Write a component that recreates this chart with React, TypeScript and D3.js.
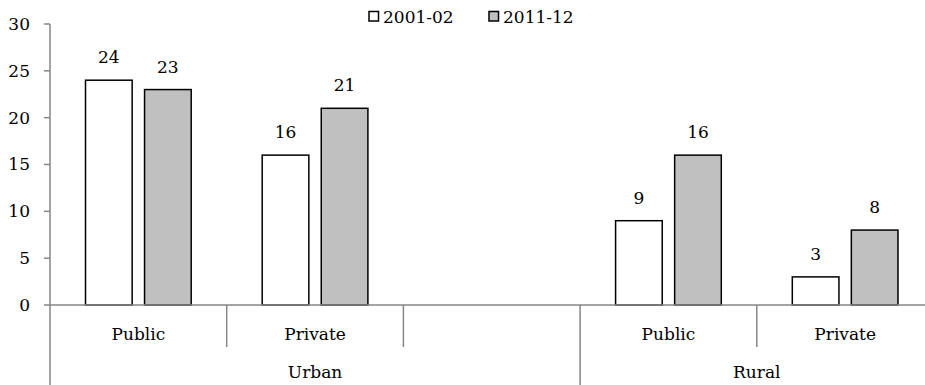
import React from "react";
import * as d3 from "d3";

const groups = ["Urban", "Rural"];
const categories = ["Urban|Public", "Urban|Private", "Urban|", "Rural|Public", "Rural|Private"];
const subLabels = ["Public", "Private", "", "Public", "Private"];
const series = ["2001-02", "2011-12"];
const values2001 = [24, 16, null, 9, 3];
const values2011 = [23, 21, null, 16, 8];
const yTicks = [0, 5, 10, 15, 20, 25, 30];

const W = 925;
const H = 385;
const FONT = "'DejaVu Serif', serif";
const FS = 17;
const AXIS = "#868686";
const FILLS = ["#ffffff", "#c0c0c0"];

export default function App() {
  const x = d3.scaleBand<string>().domain(categories).range([50, 933.5]).paddingInner(0).paddingOuter(0);
  const y = d3.scaleLinear().domain([0, 30]).range([305, 24]);
  const inner = d3.scaleBand<string>().domain(series).range([35.5, x.bandwidth() - 35.5]).paddingInner(0.21);
  const seriesValues = [values2001, values2011];
  const y0 = y(0);

  // group spans: Urban covers the first 3 categories, Rural the last 2
  const groupSpans = [
    [x(categories[0])!, x(categories[2])! + x.bandwidth()],
    [x(categories[3])!, x(categories[4])! + x.bandwidth()],
  ];

  return (
    <svg width={W} height={H} style={{ position: "absolute", left: 0, top: 0 }}>
      <rect width={W} height={H} fill="#fff" />
      {/* y axis */}
      <line x1={50} x2={50} y1={y(30)} y2={H} stroke={AXIS} strokeWidth={1.5} />
      {yTicks.map((t) => (
        <g key={t}>
          <line x1={44} x2={50} y1={y(t)} y2={y(t)} stroke={AXIS} strokeWidth={1.5} />
          <text x={30} y={y(t)} dy="0.35em" textAnchor="end" fontFamily={FONT} fontSize={FS} fill="#000">
            {t}
          </text>
        </g>
      ))}
      {/* bars */}
      {categories.map((c, i) =>
        series.map((s, j) => {
          const v = seriesValues[j][i];
          if (v == null) return null;
          const bx = x(c)! + inner(s)!;
          return (
            <g key={c + s}>
              <rect x={bx} y={y(v)} width={inner.bandwidth()} height={y0 - y(v)} fill={FILLS[j]} stroke="#000" strokeWidth={1.5} />
              <text x={bx + inner.bandwidth() / 2} y={y(v) - 17} textAnchor="middle" fontFamily={FONT} fontSize={FS} fill="#000">
                {v}
              </text>
            </g>
          );
        })
      )}
      {/* x axis */}
      <line x1={50} x2={W} y1={y0} y2={y0} stroke={AXIS} strokeWidth={1.5} />
      {categories.map((c, i) => {
        const left = x(c)!;
        const isGroupStart = i === 0 || i === 3;
        return (
          <g key={"ax" + c}>
            {i > 0 && (
              <line x1={left} x2={left} y1={y0} y2={isGroupStart ? H : 347} stroke={AXIS} strokeWidth={1.5} />
            )}
            <text x={left + x.bandwidth() / 2} y={340} textAnchor="middle" fontFamily={FONT} fontSize={FS} fill="#000">
              {subLabels[i]}
            </text>
          </g>
        );
      })}
      {groups.map((g, k) => (
        <text key={g} x={(groupSpans[k][0] + groupSpans[k][1]) / 2} y={378} textAnchor="middle" fontFamily={FONT} fontSize={FS} fill="#000">
          {g}
        </text>
      ))}
      {/* legend */}
      {series.map((s, j) => {
        const lx = 369 + j * 120;
        return (
          <g key={"lg" + s}>
            <rect x={lx} y={11.5} width={9.5} height={9.5} fill={FILLS[j]} stroke="#000" strokeWidth={1.5} />
            <text x={lx + 14} y={23} fontFamily={FONT} fontSize={FS} fill="#000">
              {s}
            </text>
          </g>
        );
      })}
    </svg>
  );
}
